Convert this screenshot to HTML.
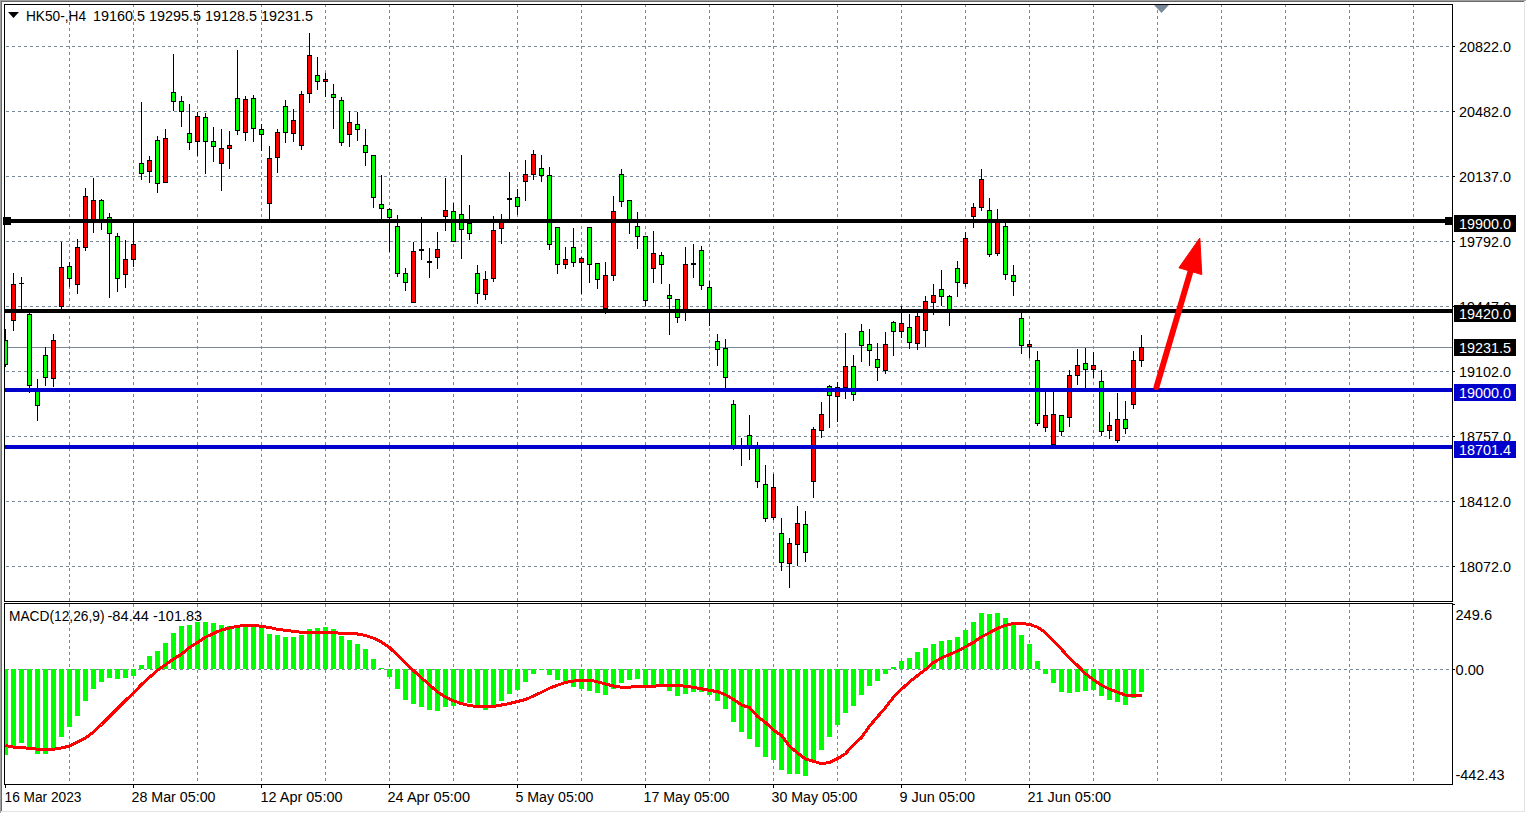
<!DOCTYPE html><html><head><meta charset="utf-8"><title>HK50 H4</title><style>html,body{margin:0;padding:0;background:#fff;overflow:hidden}svg{display:block}text{font-family:"Liberation Sans",sans-serif;font-size:14px}</style></head><body>
<svg width="1526" height="813" viewBox="0 0 1526 813">
<rect x="0" y="0" width="1526" height="813" fill="#ffffff"/>
<rect x="0" y="0" width="1526" height="1" fill="#a0a0a0"/>
<rect x="0" y="0" width="1" height="813" fill="#a0a0a0"/>
<rect x="1" y="1" width="1524" height="1" fill="#696969"/>
<rect x="1" y="1" width="1" height="811" fill="#696969"/>
<rect x="1524" y="1" width="1" height="811" fill="#e3e3e3"/>
<rect x="1" y="811" width="1524" height="1" fill="#e3e3e3"/>
<g shape-rendering="crispEdges">
<defs><clipPath id="cm"><rect x="5" y="5" width="1447" height="596"/></clipPath><clipPath id="cd"><rect x="5" y="604" width="1447" height="180"/></clipPath></defs>
<g clip-path="url(#cm)" stroke="#778899" stroke-width="1" stroke-dasharray="3 3" fill="none">
<line x1="69.5" y1="4" x2="69.5" y2="601"/>
<line x1="133.5" y1="4" x2="133.5" y2="601"/>
<line x1="197.5" y1="4" x2="197.5" y2="601"/>
<line x1="261.5" y1="4" x2="261.5" y2="601"/>
<line x1="325.5" y1="4" x2="325.5" y2="601"/>
<line x1="389.5" y1="4" x2="389.5" y2="601"/>
<line x1="453.5" y1="4" x2="453.5" y2="601"/>
<line x1="517.5" y1="4" x2="517.5" y2="601"/>
<line x1="581.5" y1="4" x2="581.5" y2="601"/>
<line x1="645.5" y1="4" x2="645.5" y2="601"/>
<line x1="709.5" y1="4" x2="709.5" y2="601"/>
<line x1="773.5" y1="4" x2="773.5" y2="601"/>
<line x1="837.5" y1="4" x2="837.5" y2="601"/>
<line x1="901.5" y1="4" x2="901.5" y2="601"/>
<line x1="965.5" y1="4" x2="965.5" y2="601"/>
<line x1="1029.5" y1="4" x2="1029.5" y2="601"/>
<line x1="1093.5" y1="4" x2="1093.5" y2="601"/>
<line x1="1157.5" y1="4" x2="1157.5" y2="601"/>
<line x1="1221.5" y1="4" x2="1221.5" y2="601"/>
<line x1="1285.5" y1="4" x2="1285.5" y2="601"/>
<line x1="1349.5" y1="4" x2="1349.5" y2="601"/>
<line x1="1413.5" y1="4" x2="1413.5" y2="601"/>
<line x1="0" y1="46.5" x2="1452" y2="46.5"/>
<line x1="0" y1="111.5" x2="1452" y2="111.5"/>
<line x1="0" y1="176.5" x2="1452" y2="176.5"/>
<line x1="0" y1="241.5" x2="1452" y2="241.5"/>
<line x1="0" y1="306.5" x2="1452" y2="306.5"/>
<line x1="0" y1="371.5" x2="1452" y2="371.5"/>
<line x1="0" y1="436.5" x2="1452" y2="436.5"/>
<line x1="0" y1="501.5" x2="1452" y2="501.5"/>
<line x1="0" y1="566.5" x2="1452" y2="566.5"/>
</g>
<g clip-path="url(#cd)" stroke="#778899" stroke-width="1" stroke-dasharray="3 3" fill="none">
<line x1="69.5" y1="604" x2="69.5" y2="781"/>
<line x1="133.5" y1="604" x2="133.5" y2="781"/>
<line x1="197.5" y1="604" x2="197.5" y2="781"/>
<line x1="261.5" y1="604" x2="261.5" y2="781"/>
<line x1="325.5" y1="604" x2="325.5" y2="781"/>
<line x1="389.5" y1="604" x2="389.5" y2="781"/>
<line x1="453.5" y1="604" x2="453.5" y2="781"/>
<line x1="517.5" y1="604" x2="517.5" y2="781"/>
<line x1="581.5" y1="604" x2="581.5" y2="781"/>
<line x1="645.5" y1="604" x2="645.5" y2="781"/>
<line x1="709.5" y1="604" x2="709.5" y2="781"/>
<line x1="773.5" y1="604" x2="773.5" y2="781"/>
<line x1="837.5" y1="604" x2="837.5" y2="781"/>
<line x1="901.5" y1="604" x2="901.5" y2="781"/>
<line x1="965.5" y1="604" x2="965.5" y2="781"/>
<line x1="1029.5" y1="604" x2="1029.5" y2="781"/>
<line x1="1093.5" y1="604" x2="1093.5" y2="781"/>
<line x1="1157.5" y1="604" x2="1157.5" y2="781"/>
<line x1="1221.5" y1="604" x2="1221.5" y2="781"/>
<line x1="1285.5" y1="604" x2="1285.5" y2="781"/>
<line x1="1349.5" y1="604" x2="1349.5" y2="781"/>
<line x1="1413.5" y1="604" x2="1413.5" y2="781"/>
<line x1="0" y1="669.5" x2="1452" y2="669.5"/>
</g>
<g fill="none" stroke="#000" stroke-width="1">
<rect x="4.5" y="4.5" width="1448" height="597"/>
<rect x="4.5" y="603.5" width="1448" height="181"/>
</g>
<rect x="1453" y="46" width="2" height="1" fill="#000"/>
<rect x="1453" y="111" width="2" height="1" fill="#000"/>
<rect x="1453" y="176" width="2" height="1" fill="#000"/>
<rect x="1453" y="241" width="2" height="1" fill="#000"/>
<rect x="1453" y="306" width="2" height="1" fill="#000"/>
<rect x="1453" y="371" width="2" height="1" fill="#000"/>
<rect x="1453" y="436" width="2" height="1" fill="#000"/>
<rect x="1453" y="501" width="2" height="1" fill="#000"/>
<rect x="1453" y="566" width="2" height="1" fill="#000"/>
<rect x="1453" y="604" width="2" height="1" fill="#000"/>
<rect x="1453" y="669" width="2" height="1" fill="#000"/>
<rect x="5" y="785" width="1" height="3" fill="#000"/>
<rect x="133" y="785" width="1" height="3" fill="#000"/>
<rect x="261" y="785" width="1" height="3" fill="#000"/>
<rect x="389" y="785" width="1" height="3" fill="#000"/>
<rect x="517" y="785" width="1" height="3" fill="#000"/>
<rect x="645" y="785" width="1" height="3" fill="#000"/>
<rect x="773" y="785" width="1" height="3" fill="#000"/>
<rect x="901" y="785" width="1" height="3" fill="#000"/>
<rect x="1029" y="785" width="1" height="3" fill="#000"/>
<rect x="5" y="347" width="1447" height="1" fill="#778899"/>
<g clip-path="url(#cm)">
<rect x="5" y="329" width="1" height="38" fill="#000"/>
<rect x="3" y="340" width="5" height="25" fill="#000"/>
<rect x="4" y="341" width="3" height="23" fill="#00ff00"/>
<rect x="13" y="273" width="1" height="58" fill="#000"/>
<rect x="11" y="284" width="5" height="37" fill="#000"/>
<rect x="12" y="285" width="3" height="35" fill="#ff0000"/>
<rect x="21" y="277" width="1" height="35" fill="#000"/>
<rect x="19" y="283" width="5" height="1" fill="#000"/>
<rect x="29" y="312" width="1" height="81" fill="#000"/>
<rect x="27" y="314" width="5" height="72" fill="#000"/>
<rect x="28" y="315" width="3" height="70" fill="#00ff00"/>
<rect x="37" y="379" width="1" height="42" fill="#000"/>
<rect x="35" y="391" width="5" height="15" fill="#000"/>
<rect x="36" y="392" width="3" height="13" fill="#00ff00"/>
<rect x="45" y="347" width="1" height="39" fill="#000"/>
<rect x="43" y="355" width="5" height="23" fill="#000"/>
<rect x="44" y="356" width="3" height="21" fill="#00ff00"/>
<rect x="53" y="334" width="1" height="53" fill="#000"/>
<rect x="51" y="340" width="5" height="39" fill="#000"/>
<rect x="52" y="341" width="3" height="37" fill="#ff0000"/>
<rect x="61" y="242" width="1" height="67" fill="#000"/>
<rect x="59" y="267" width="5" height="40" fill="#000"/>
<rect x="60" y="268" width="3" height="38" fill="#ff0000"/>
<rect x="69" y="262" width="1" height="25" fill="#000"/>
<rect x="67" y="266" width="5" height="13" fill="#000"/>
<rect x="68" y="267" width="3" height="11" fill="#00ff00"/>
<rect x="77" y="239" width="1" height="55" fill="#000"/>
<rect x="75" y="247" width="5" height="38" fill="#000"/>
<rect x="76" y="248" width="3" height="36" fill="#ff0000"/>
<rect x="85" y="188" width="1" height="63" fill="#000"/>
<rect x="83" y="196" width="5" height="52" fill="#000"/>
<rect x="84" y="197" width="3" height="50" fill="#ff0000"/>
<rect x="93" y="178" width="1" height="55" fill="#000"/>
<rect x="91" y="200" width="5" height="23" fill="#000"/>
<rect x="92" y="201" width="3" height="21" fill="#ff0000"/>
<rect x="101" y="199" width="1" height="31" fill="#000"/>
<rect x="99" y="200" width="5" height="20" fill="#000"/>
<rect x="100" y="201" width="3" height="18" fill="#00ff00"/>
<rect x="109" y="213" width="1" height="85" fill="#000"/>
<rect x="107" y="217" width="5" height="17" fill="#000"/>
<rect x="108" y="218" width="3" height="15" fill="#00ff00"/>
<rect x="117" y="233" width="1" height="59" fill="#000"/>
<rect x="115" y="236" width="5" height="43" fill="#000"/>
<rect x="116" y="237" width="3" height="41" fill="#00ff00"/>
<rect x="125" y="240" width="1" height="48" fill="#000"/>
<rect x="123" y="259" width="5" height="16" fill="#000"/>
<rect x="124" y="260" width="3" height="14" fill="#ff0000"/>
<rect x="133" y="223" width="1" height="44" fill="#000"/>
<rect x="131" y="244" width="5" height="16" fill="#000"/>
<rect x="132" y="245" width="3" height="14" fill="#ff0000"/>
<rect x="141" y="102" width="1" height="78" fill="#000"/>
<rect x="139" y="163" width="5" height="11" fill="#000"/>
<rect x="140" y="164" width="3" height="9" fill="#00ff00"/>
<rect x="149" y="156" width="1" height="27" fill="#000"/>
<rect x="147" y="160" width="5" height="12" fill="#000"/>
<rect x="148" y="161" width="3" height="10" fill="#ff0000"/>
<rect x="157" y="136" width="1" height="57" fill="#000"/>
<rect x="155" y="140" width="5" height="44" fill="#000"/>
<rect x="156" y="141" width="3" height="42" fill="#00ff00"/>
<rect x="165" y="129" width="1" height="54" fill="#000"/>
<rect x="163" y="138" width="5" height="45" fill="#000"/>
<rect x="164" y="139" width="3" height="43" fill="#ff0000"/>
<rect x="173" y="54" width="1" height="57" fill="#000"/>
<rect x="171" y="92" width="5" height="10" fill="#000"/>
<rect x="172" y="93" width="3" height="8" fill="#00ff00"/>
<rect x="181" y="96" width="1" height="31" fill="#000"/>
<rect x="179" y="101" width="5" height="11" fill="#000"/>
<rect x="180" y="102" width="3" height="9" fill="#00ff00"/>
<rect x="189" y="104" width="1" height="46" fill="#000"/>
<rect x="187" y="133" width="5" height="10" fill="#000"/>
<rect x="188" y="134" width="3" height="8" fill="#00ff00"/>
<rect x="197" y="112" width="1" height="44" fill="#000"/>
<rect x="195" y="116" width="5" height="26" fill="#000"/>
<rect x="196" y="117" width="3" height="24" fill="#ff0000"/>
<rect x="205" y="113" width="1" height="61" fill="#000"/>
<rect x="203" y="117" width="5" height="25" fill="#000"/>
<rect x="204" y="118" width="3" height="23" fill="#00ff00"/>
<rect x="213" y="127" width="1" height="35" fill="#000"/>
<rect x="211" y="141" width="5" height="6" fill="#000"/>
<rect x="212" y="142" width="3" height="4" fill="#00ff00"/>
<rect x="221" y="129" width="1" height="62" fill="#000"/>
<rect x="219" y="148" width="5" height="16" fill="#000"/>
<rect x="220" y="149" width="3" height="14" fill="#ff0000"/>
<rect x="229" y="131" width="1" height="38" fill="#000"/>
<rect x="227" y="145" width="5" height="4" fill="#000"/>
<rect x="228" y="146" width="3" height="2" fill="#ff0000"/>
<rect x="237" y="50" width="1" height="85" fill="#000"/>
<rect x="235" y="98" width="5" height="33" fill="#000"/>
<rect x="236" y="99" width="3" height="31" fill="#00ff00"/>
<rect x="245" y="96" width="1" height="45" fill="#000"/>
<rect x="243" y="99" width="5" height="34" fill="#000"/>
<rect x="244" y="100" width="3" height="32" fill="#ff0000"/>
<rect x="253" y="95" width="1" height="47" fill="#000"/>
<rect x="251" y="98" width="5" height="31" fill="#000"/>
<rect x="252" y="99" width="3" height="29" fill="#00ff00"/>
<rect x="261" y="124" width="1" height="27" fill="#000"/>
<rect x="259" y="129" width="5" height="6" fill="#000"/>
<rect x="260" y="130" width="3" height="4" fill="#00ff00"/>
<rect x="269" y="146" width="1" height="74" fill="#000"/>
<rect x="267" y="158" width="5" height="46" fill="#000"/>
<rect x="268" y="159" width="3" height="44" fill="#ff0000"/>
<rect x="277" y="129" width="1" height="44" fill="#000"/>
<rect x="275" y="132" width="5" height="26" fill="#000"/>
<rect x="276" y="133" width="3" height="24" fill="#ff0000"/>
<rect x="285" y="100" width="1" height="43" fill="#000"/>
<rect x="283" y="106" width="5" height="27" fill="#000"/>
<rect x="284" y="107" width="3" height="25" fill="#00ff00"/>
<rect x="293" y="109" width="1" height="33" fill="#000"/>
<rect x="291" y="120" width="5" height="14" fill="#000"/>
<rect x="292" y="121" width="3" height="12" fill="#ff0000"/>
<rect x="301" y="91" width="1" height="59" fill="#000"/>
<rect x="299" y="94" width="5" height="52" fill="#000"/>
<rect x="300" y="95" width="3" height="50" fill="#ff0000"/>
<rect x="309" y="33" width="1" height="70" fill="#000"/>
<rect x="307" y="55" width="5" height="39" fill="#000"/>
<rect x="308" y="56" width="3" height="37" fill="#ff0000"/>
<rect x="317" y="57" width="1" height="33" fill="#000"/>
<rect x="315" y="75" width="5" height="7" fill="#000"/>
<rect x="316" y="76" width="3" height="5" fill="#00ff00"/>
<rect x="325" y="73" width="1" height="24" fill="#000"/>
<rect x="323" y="79" width="5" height="3" fill="#000"/>
<rect x="324" y="80" width="3" height="1" fill="#ff0000"/>
<rect x="333" y="84" width="1" height="45" fill="#000"/>
<rect x="331" y="94" width="5" height="4" fill="#000"/>
<rect x="332" y="95" width="3" height="2" fill="#00ff00"/>
<rect x="341" y="97" width="1" height="49" fill="#000"/>
<rect x="339" y="100" width="5" height="43" fill="#000"/>
<rect x="340" y="101" width="3" height="41" fill="#00ff00"/>
<rect x="349" y="111" width="1" height="36" fill="#000"/>
<rect x="347" y="122" width="5" height="13" fill="#000"/>
<rect x="348" y="123" width="3" height="11" fill="#ff0000"/>
<rect x="357" y="112" width="1" height="29" fill="#000"/>
<rect x="355" y="124" width="5" height="6" fill="#000"/>
<rect x="356" y="125" width="3" height="4" fill="#00ff00"/>
<rect x="365" y="129" width="1" height="37" fill="#000"/>
<rect x="363" y="145" width="5" height="8" fill="#000"/>
<rect x="364" y="146" width="3" height="6" fill="#00ff00"/>
<rect x="373" y="155" width="1" height="53" fill="#000"/>
<rect x="371" y="155" width="5" height="43" fill="#000"/>
<rect x="372" y="156" width="3" height="41" fill="#00ff00"/>
<rect x="381" y="175" width="1" height="45" fill="#000"/>
<rect x="379" y="204" width="5" height="5" fill="#000"/>
<rect x="380" y="205" width="3" height="3" fill="#00ff00"/>
<rect x="389" y="208" width="1" height="44" fill="#000"/>
<rect x="387" y="209" width="5" height="9" fill="#000"/>
<rect x="388" y="210" width="3" height="7" fill="#00ff00"/>
<rect x="397" y="215" width="1" height="62" fill="#000"/>
<rect x="395" y="226" width="5" height="48" fill="#000"/>
<rect x="396" y="227" width="3" height="46" fill="#00ff00"/>
<rect x="405" y="268" width="1" height="23" fill="#000"/>
<rect x="403" y="273" width="5" height="10" fill="#000"/>
<rect x="404" y="274" width="3" height="8" fill="#00ff00"/>
<rect x="413" y="242" width="1" height="61" fill="#000"/>
<rect x="411" y="251" width="5" height="52" fill="#000"/>
<rect x="412" y="252" width="3" height="50" fill="#ff0000"/>
<rect x="421" y="217" width="1" height="43" fill="#000"/>
<rect x="419" y="249" width="5" height="2" fill="#000"/>
<rect x="429" y="248" width="1" height="30" fill="#000"/>
<rect x="427" y="261" width="5" height="2" fill="#000"/>
<rect x="437" y="232" width="1" height="37" fill="#000"/>
<rect x="435" y="249" width="5" height="9" fill="#000"/>
<rect x="436" y="250" width="3" height="7" fill="#ff0000"/>
<rect x="445" y="178" width="1" height="53" fill="#000"/>
<rect x="443" y="210" width="5" height="7" fill="#000"/>
<rect x="444" y="211" width="3" height="5" fill="#ff0000"/>
<rect x="453" y="203" width="1" height="38" fill="#000"/>
<rect x="451" y="211" width="5" height="31" fill="#000"/>
<rect x="452" y="212" width="3" height="29" fill="#00ff00"/>
<rect x="461" y="155" width="1" height="104" fill="#000"/>
<rect x="459" y="214" width="5" height="16" fill="#000"/>
<rect x="460" y="215" width="3" height="14" fill="#00ff00"/>
<rect x="469" y="205" width="1" height="35" fill="#000"/>
<rect x="467" y="223" width="5" height="11" fill="#000"/>
<rect x="468" y="224" width="3" height="9" fill="#00ff00"/>
<rect x="477" y="265" width="1" height="39" fill="#000"/>
<rect x="475" y="273" width="5" height="21" fill="#000"/>
<rect x="476" y="274" width="3" height="19" fill="#00ff00"/>
<rect x="485" y="271" width="1" height="29" fill="#000"/>
<rect x="483" y="279" width="5" height="16" fill="#000"/>
<rect x="484" y="280" width="3" height="14" fill="#ff0000"/>
<rect x="493" y="216" width="1" height="66" fill="#000"/>
<rect x="491" y="230" width="5" height="49" fill="#000"/>
<rect x="492" y="231" width="3" height="47" fill="#ff0000"/>
<rect x="501" y="214" width="1" height="30" fill="#000"/>
<rect x="499" y="222" width="5" height="7" fill="#000"/>
<rect x="500" y="223" width="3" height="5" fill="#ff0000"/>
<rect x="509" y="172" width="1" height="48" fill="#000"/>
<rect x="507" y="198" width="5" height="2" fill="#000"/>
<rect x="517" y="189" width="1" height="26" fill="#000"/>
<rect x="515" y="197" width="5" height="10" fill="#000"/>
<rect x="516" y="198" width="3" height="8" fill="#00ff00"/>
<rect x="525" y="160" width="1" height="41" fill="#000"/>
<rect x="523" y="174" width="5" height="8" fill="#000"/>
<rect x="524" y="175" width="3" height="6" fill="#ff0000"/>
<rect x="533" y="150" width="1" height="30" fill="#000"/>
<rect x="531" y="154" width="5" height="21" fill="#000"/>
<rect x="532" y="155" width="3" height="19" fill="#ff0000"/>
<rect x="541" y="155" width="1" height="27" fill="#000"/>
<rect x="539" y="168" width="5" height="8" fill="#000"/>
<rect x="540" y="169" width="3" height="6" fill="#00ff00"/>
<rect x="549" y="167" width="1" height="83" fill="#000"/>
<rect x="547" y="175" width="5" height="70" fill="#000"/>
<rect x="548" y="176" width="3" height="68" fill="#00ff00"/>
<rect x="557" y="227" width="1" height="47" fill="#000"/>
<rect x="555" y="227" width="5" height="38" fill="#000"/>
<rect x="556" y="228" width="3" height="36" fill="#00ff00"/>
<rect x="565" y="247" width="1" height="22" fill="#000"/>
<rect x="563" y="259" width="5" height="6" fill="#000"/>
<rect x="564" y="260" width="3" height="4" fill="#ff0000"/>
<rect x="573" y="228" width="1" height="39" fill="#000"/>
<rect x="571" y="247" width="5" height="16" fill="#000"/>
<rect x="572" y="248" width="3" height="14" fill="#00ff00"/>
<rect x="581" y="257" width="1" height="37" fill="#000"/>
<rect x="579" y="258" width="5" height="5" fill="#000"/>
<rect x="580" y="259" width="3" height="3" fill="#ff0000"/>
<rect x="589" y="227" width="1" height="56" fill="#000"/>
<rect x="587" y="227" width="5" height="38" fill="#000"/>
<rect x="588" y="228" width="3" height="36" fill="#00ff00"/>
<rect x="597" y="263" width="1" height="26" fill="#000"/>
<rect x="595" y="263" width="5" height="17" fill="#000"/>
<rect x="596" y="264" width="3" height="15" fill="#00ff00"/>
<rect x="605" y="262" width="1" height="52" fill="#000"/>
<rect x="603" y="275" width="5" height="34" fill="#000"/>
<rect x="604" y="276" width="3" height="32" fill="#ff0000"/>
<rect x="613" y="196" width="1" height="85" fill="#000"/>
<rect x="611" y="211" width="5" height="65" fill="#000"/>
<rect x="612" y="212" width="3" height="63" fill="#ff0000"/>
<rect x="621" y="169" width="1" height="38" fill="#000"/>
<rect x="619" y="174" width="5" height="28" fill="#000"/>
<rect x="620" y="175" width="3" height="26" fill="#00ff00"/>
<rect x="629" y="200" width="1" height="34" fill="#000"/>
<rect x="627" y="200" width="5" height="21" fill="#000"/>
<rect x="628" y="201" width="3" height="19" fill="#00ff00"/>
<rect x="637" y="212" width="1" height="37" fill="#000"/>
<rect x="635" y="226" width="5" height="11" fill="#000"/>
<rect x="636" y="227" width="3" height="9" fill="#00ff00"/>
<rect x="645" y="236" width="1" height="70" fill="#000"/>
<rect x="643" y="236" width="5" height="65" fill="#000"/>
<rect x="644" y="237" width="3" height="63" fill="#00ff00"/>
<rect x="653" y="231" width="1" height="52" fill="#000"/>
<rect x="651" y="253" width="5" height="16" fill="#000"/>
<rect x="652" y="254" width="3" height="14" fill="#ff0000"/>
<rect x="661" y="252" width="1" height="32" fill="#000"/>
<rect x="659" y="255" width="5" height="10" fill="#000"/>
<rect x="660" y="256" width="3" height="8" fill="#00ff00"/>
<rect x="669" y="284" width="1" height="51" fill="#000"/>
<rect x="667" y="295" width="5" height="4" fill="#000"/>
<rect x="668" y="296" width="3" height="2" fill="#00ff00"/>
<rect x="677" y="299" width="1" height="24" fill="#000"/>
<rect x="675" y="299" width="5" height="19" fill="#000"/>
<rect x="676" y="300" width="3" height="17" fill="#00ff00"/>
<rect x="685" y="247" width="1" height="74" fill="#000"/>
<rect x="683" y="264" width="5" height="47" fill="#000"/>
<rect x="684" y="265" width="3" height="45" fill="#ff0000"/>
<rect x="693" y="244" width="1" height="34" fill="#000"/>
<rect x="691" y="263" width="5" height="2" fill="#000"/>
<rect x="701" y="246" width="1" height="44" fill="#000"/>
<rect x="699" y="250" width="5" height="36" fill="#000"/>
<rect x="700" y="251" width="3" height="34" fill="#00ff00"/>
<rect x="709" y="281" width="1" height="45" fill="#000"/>
<rect x="707" y="287" width="5" height="23" fill="#000"/>
<rect x="708" y="288" width="3" height="21" fill="#00ff00"/>
<rect x="717" y="334" width="1" height="32" fill="#000"/>
<rect x="715" y="341" width="5" height="9" fill="#000"/>
<rect x="716" y="342" width="3" height="7" fill="#00ff00"/>
<rect x="725" y="339" width="1" height="49" fill="#000"/>
<rect x="723" y="348" width="5" height="30" fill="#000"/>
<rect x="724" y="349" width="3" height="28" fill="#00ff00"/>
<rect x="733" y="400" width="1" height="50" fill="#000"/>
<rect x="731" y="404" width="5" height="43" fill="#000"/>
<rect x="732" y="405" width="3" height="41" fill="#00ff00"/>
<rect x="741" y="438" width="1" height="28" fill="#000"/>
<rect x="739" y="447" width="5" height="1" fill="#000"/>
<rect x="749" y="415" width="1" height="45" fill="#000"/>
<rect x="747" y="435" width="5" height="13" fill="#000"/>
<rect x="748" y="436" width="3" height="11" fill="#00ff00"/>
<rect x="757" y="442" width="1" height="46" fill="#000"/>
<rect x="755" y="447" width="5" height="35" fill="#000"/>
<rect x="756" y="448" width="3" height="33" fill="#00ff00"/>
<rect x="765" y="465" width="1" height="57" fill="#000"/>
<rect x="763" y="484" width="5" height="35" fill="#000"/>
<rect x="764" y="485" width="3" height="33" fill="#00ff00"/>
<rect x="773" y="474" width="1" height="46" fill="#000"/>
<rect x="771" y="487" width="5" height="31" fill="#000"/>
<rect x="772" y="488" width="3" height="29" fill="#ff0000"/>
<rect x="781" y="518" width="1" height="53" fill="#000"/>
<rect x="779" y="533" width="5" height="30" fill="#000"/>
<rect x="780" y="534" width="3" height="28" fill="#00ff00"/>
<rect x="789" y="538" width="1" height="50" fill="#000"/>
<rect x="787" y="543" width="5" height="21" fill="#000"/>
<rect x="788" y="544" width="3" height="19" fill="#ff0000"/>
<rect x="797" y="506" width="1" height="60" fill="#000"/>
<rect x="795" y="523" width="5" height="22" fill="#000"/>
<rect x="796" y="524" width="3" height="20" fill="#ff0000"/>
<rect x="805" y="511" width="1" height="51" fill="#000"/>
<rect x="803" y="524" width="5" height="29" fill="#000"/>
<rect x="804" y="525" width="3" height="27" fill="#00ff00"/>
<rect x="813" y="427" width="1" height="71" fill="#000"/>
<rect x="811" y="429" width="5" height="53" fill="#000"/>
<rect x="812" y="430" width="3" height="51" fill="#ff0000"/>
<rect x="821" y="402" width="1" height="36" fill="#000"/>
<rect x="819" y="414" width="5" height="17" fill="#000"/>
<rect x="820" y="415" width="3" height="15" fill="#ff0000"/>
<rect x="829" y="385" width="1" height="43" fill="#000"/>
<rect x="827" y="386" width="5" height="10" fill="#000"/>
<rect x="828" y="387" width="3" height="8" fill="#00ff00"/>
<rect x="837" y="382" width="1" height="40" fill="#000"/>
<rect x="835" y="387" width="5" height="10" fill="#000"/>
<rect x="836" y="388" width="3" height="8" fill="#ff0000"/>
<rect x="845" y="333" width="1" height="66" fill="#000"/>
<rect x="843" y="366" width="5" height="22" fill="#000"/>
<rect x="844" y="367" width="3" height="20" fill="#ff0000"/>
<rect x="853" y="355" width="1" height="46" fill="#000"/>
<rect x="851" y="366" width="5" height="29" fill="#000"/>
<rect x="852" y="367" width="3" height="27" fill="#00ff00"/>
<rect x="861" y="324" width="1" height="38" fill="#000"/>
<rect x="859" y="331" width="5" height="15" fill="#000"/>
<rect x="860" y="332" width="3" height="13" fill="#00ff00"/>
<rect x="869" y="329" width="1" height="37" fill="#000"/>
<rect x="867" y="344" width="5" height="7" fill="#000"/>
<rect x="868" y="345" width="3" height="5" fill="#00ff00"/>
<rect x="877" y="343" width="1" height="38" fill="#000"/>
<rect x="875" y="359" width="5" height="9" fill="#000"/>
<rect x="876" y="360" width="3" height="7" fill="#00ff00"/>
<rect x="885" y="332" width="1" height="42" fill="#000"/>
<rect x="883" y="344" width="5" height="27" fill="#000"/>
<rect x="884" y="345" width="3" height="25" fill="#ff0000"/>
<rect x="893" y="321" width="1" height="35" fill="#000"/>
<rect x="891" y="322" width="5" height="10" fill="#000"/>
<rect x="892" y="323" width="3" height="8" fill="#00ff00"/>
<rect x="901" y="306" width="1" height="32" fill="#000"/>
<rect x="899" y="323" width="5" height="9" fill="#000"/>
<rect x="900" y="324" width="3" height="7" fill="#ff0000"/>
<rect x="909" y="314" width="1" height="35" fill="#000"/>
<rect x="907" y="327" width="5" height="16" fill="#000"/>
<rect x="908" y="328" width="3" height="14" fill="#00ff00"/>
<rect x="917" y="313" width="1" height="37" fill="#000"/>
<rect x="915" y="316" width="5" height="28" fill="#000"/>
<rect x="916" y="317" width="3" height="26" fill="#ff0000"/>
<rect x="925" y="296" width="1" height="51" fill="#000"/>
<rect x="923" y="301" width="5" height="30" fill="#000"/>
<rect x="924" y="302" width="3" height="28" fill="#ff0000"/>
<rect x="933" y="284" width="1" height="31" fill="#000"/>
<rect x="931" y="295" width="5" height="8" fill="#000"/>
<rect x="932" y="296" width="3" height="6" fill="#ff0000"/>
<rect x="941" y="270" width="1" height="36" fill="#000"/>
<rect x="939" y="289" width="5" height="8" fill="#000"/>
<rect x="940" y="290" width="3" height="6" fill="#00ff00"/>
<rect x="949" y="295" width="1" height="31" fill="#000"/>
<rect x="947" y="296" width="5" height="14" fill="#000"/>
<rect x="948" y="297" width="3" height="12" fill="#00ff00"/>
<rect x="957" y="261" width="1" height="36" fill="#000"/>
<rect x="955" y="268" width="5" height="15" fill="#000"/>
<rect x="956" y="269" width="3" height="13" fill="#00ff00"/>
<rect x="965" y="232" width="1" height="55" fill="#000"/>
<rect x="963" y="238" width="5" height="46" fill="#000"/>
<rect x="964" y="239" width="3" height="44" fill="#ff0000"/>
<rect x="973" y="203" width="1" height="25" fill="#000"/>
<rect x="971" y="207" width="5" height="10" fill="#000"/>
<rect x="972" y="208" width="3" height="8" fill="#ff0000"/>
<rect x="981" y="169" width="1" height="42" fill="#000"/>
<rect x="979" y="179" width="5" height="29" fill="#000"/>
<rect x="980" y="180" width="3" height="27" fill="#ff0000"/>
<rect x="989" y="198" width="1" height="59" fill="#000"/>
<rect x="987" y="210" width="5" height="45" fill="#000"/>
<rect x="988" y="211" width="3" height="43" fill="#00ff00"/>
<rect x="997" y="209" width="1" height="47" fill="#000"/>
<rect x="995" y="220" width="5" height="34" fill="#000"/>
<rect x="996" y="221" width="3" height="32" fill="#ff0000"/>
<rect x="1005" y="221" width="1" height="59" fill="#000"/>
<rect x="1003" y="226" width="5" height="49" fill="#000"/>
<rect x="1004" y="227" width="3" height="47" fill="#00ff00"/>
<rect x="1013" y="265" width="1" height="31" fill="#000"/>
<rect x="1011" y="275" width="5" height="7" fill="#000"/>
<rect x="1012" y="276" width="3" height="5" fill="#00ff00"/>
<rect x="1021" y="313" width="1" height="41" fill="#000"/>
<rect x="1019" y="318" width="5" height="28" fill="#000"/>
<rect x="1020" y="319" width="3" height="26" fill="#00ff00"/>
<rect x="1029" y="340" width="1" height="18" fill="#000"/>
<rect x="1027" y="344" width="5" height="3" fill="#000"/>
<rect x="1028" y="345" width="3" height="1" fill="#ff0000"/>
<rect x="1037" y="351" width="1" height="75" fill="#000"/>
<rect x="1035" y="360" width="5" height="64" fill="#000"/>
<rect x="1036" y="361" width="3" height="62" fill="#00ff00"/>
<rect x="1045" y="392" width="1" height="40" fill="#000"/>
<rect x="1043" y="415" width="5" height="13" fill="#000"/>
<rect x="1044" y="416" width="3" height="11" fill="#ff0000"/>
<rect x="1053" y="392" width="1" height="52" fill="#000"/>
<rect x="1051" y="414" width="5" height="31" fill="#000"/>
<rect x="1052" y="415" width="3" height="29" fill="#ff0000"/>
<rect x="1061" y="415" width="1" height="21" fill="#000"/>
<rect x="1059" y="415" width="5" height="17" fill="#000"/>
<rect x="1060" y="416" width="3" height="15" fill="#00ff00"/>
<rect x="1069" y="370" width="1" height="57" fill="#000"/>
<rect x="1067" y="375" width="5" height="43" fill="#000"/>
<rect x="1068" y="376" width="3" height="41" fill="#ff0000"/>
<rect x="1077" y="349" width="1" height="36" fill="#000"/>
<rect x="1075" y="365" width="5" height="11" fill="#000"/>
<rect x="1076" y="366" width="3" height="9" fill="#ff0000"/>
<rect x="1085" y="348" width="1" height="40" fill="#000"/>
<rect x="1083" y="363" width="5" height="7" fill="#000"/>
<rect x="1084" y="364" width="3" height="5" fill="#00ff00"/>
<rect x="1093" y="352" width="1" height="26" fill="#000"/>
<rect x="1091" y="365" width="5" height="5" fill="#000"/>
<rect x="1092" y="366" width="3" height="3" fill="#ff0000"/>
<rect x="1101" y="370" width="1" height="66" fill="#000"/>
<rect x="1099" y="381" width="5" height="51" fill="#000"/>
<rect x="1100" y="382" width="3" height="49" fill="#00ff00"/>
<rect x="1109" y="412" width="1" height="27" fill="#000"/>
<rect x="1107" y="425" width="5" height="6" fill="#000"/>
<rect x="1108" y="426" width="3" height="4" fill="#ff0000"/>
<rect x="1117" y="393" width="1" height="50" fill="#000"/>
<rect x="1115" y="419" width="5" height="22" fill="#000"/>
<rect x="1116" y="420" width="3" height="20" fill="#ff0000"/>
<rect x="1125" y="401" width="1" height="33" fill="#000"/>
<rect x="1123" y="419" width="5" height="10" fill="#000"/>
<rect x="1124" y="420" width="3" height="8" fill="#00ff00"/>
<rect x="1133" y="351" width="1" height="58" fill="#000"/>
<rect x="1131" y="360" width="5" height="45" fill="#000"/>
<rect x="1132" y="361" width="3" height="43" fill="#ff0000"/>
<rect x="1141" y="335" width="1" height="32" fill="#000"/>
<rect x="1139" y="347" width="5" height="14" fill="#000"/>
<rect x="1140" y="348" width="3" height="12" fill="#ff0000"/>
</g>
<rect x="5" y="219" width="1447" height="4" fill="#000"/>
<rect x="5" y="309" width="1447" height="4" fill="#000"/>
<rect x="5" y="388" width="1447" height="4" fill="#0000cd"/>
<rect x="5" y="445" width="1447" height="4" fill="#0000cd"/>
<rect x="3" y="217" width="8" height="8" fill="#000"/>
<rect x="1445" y="217" width="8" height="8" fill="#000"/>
</g>
<g shape-rendering="crispEdges" fill="#00ff00" clip-path="url(#cd)">
<rect x="3" y="669" width="5" height="86" fill="#00ff00"/>
<rect x="11" y="669" width="5" height="78" fill="#00ff00"/>
<rect x="19" y="669" width="5" height="74" fill="#00ff00"/>
<rect x="27" y="669" width="5" height="80" fill="#00ff00"/>
<rect x="35" y="669" width="5" height="85" fill="#00ff00"/>
<rect x="43" y="669" width="5" height="85" fill="#00ff00"/>
<rect x="51" y="669" width="5" height="81" fill="#00ff00"/>
<rect x="59" y="669" width="5" height="68" fill="#00ff00"/>
<rect x="67" y="669" width="5" height="58" fill="#00ff00"/>
<rect x="75" y="669" width="5" height="47" fill="#00ff00"/>
<rect x="83" y="669" width="5" height="32" fill="#00ff00"/>
<rect x="91" y="669" width="5" height="20" fill="#00ff00"/>
<rect x="99" y="669" width="5" height="13" fill="#00ff00"/>
<rect x="107" y="669" width="5" height="9" fill="#00ff00"/>
<rect x="115" y="669" width="5" height="10" fill="#00ff00"/>
<rect x="123" y="669" width="5" height="9" fill="#00ff00"/>
<rect x="131" y="669" width="5" height="7" fill="#00ff00"/>
<rect x="139" y="665" width="5" height="4" fill="#00ff00"/>
<rect x="147" y="656" width="5" height="13" fill="#00ff00"/>
<rect x="155" y="651" width="5" height="18" fill="#00ff00"/>
<rect x="163" y="643" width="5" height="26" fill="#00ff00"/>
<rect x="171" y="633" width="5" height="36" fill="#00ff00"/>
<rect x="179" y="626" width="5" height="43" fill="#00ff00"/>
<rect x="187" y="625" width="5" height="44" fill="#00ff00"/>
<rect x="195" y="622" width="5" height="47" fill="#00ff00"/>
<rect x="203" y="622" width="5" height="47" fill="#00ff00"/>
<rect x="211" y="623" width="5" height="46" fill="#00ff00"/>
<rect x="219" y="625" width="5" height="44" fill="#00ff00"/>
<rect x="227" y="626" width="5" height="43" fill="#00ff00"/>
<rect x="235" y="625" width="5" height="44" fill="#00ff00"/>
<rect x="243" y="624" width="5" height="45" fill="#00ff00"/>
<rect x="251" y="624" width="5" height="45" fill="#00ff00"/>
<rect x="259" y="628" width="5" height="41" fill="#00ff00"/>
<rect x="267" y="634" width="5" height="35" fill="#00ff00"/>
<rect x="275" y="635" width="5" height="34" fill="#00ff00"/>
<rect x="283" y="637" width="5" height="32" fill="#00ff00"/>
<rect x="291" y="637" width="5" height="32" fill="#00ff00"/>
<rect x="299" y="635" width="5" height="34" fill="#00ff00"/>
<rect x="307" y="629" width="5" height="40" fill="#00ff00"/>
<rect x="315" y="628" width="5" height="41" fill="#00ff00"/>
<rect x="323" y="627" width="5" height="42" fill="#00ff00"/>
<rect x="331" y="629" width="5" height="40" fill="#00ff00"/>
<rect x="339" y="636" width="5" height="33" fill="#00ff00"/>
<rect x="347" y="640" width="5" height="29" fill="#00ff00"/>
<rect x="355" y="644" width="5" height="25" fill="#00ff00"/>
<rect x="363" y="649" width="5" height="20" fill="#00ff00"/>
<rect x="371" y="659" width="5" height="10" fill="#00ff00"/>
<rect x="379" y="668" width="5" height="1" fill="#00ff00"/>
<rect x="387" y="669" width="5" height="8" fill="#00ff00"/>
<rect x="395" y="669" width="5" height="20" fill="#00ff00"/>
<rect x="403" y="669" width="5" height="31" fill="#00ff00"/>
<rect x="411" y="669" width="5" height="35" fill="#00ff00"/>
<rect x="419" y="669" width="5" height="38" fill="#00ff00"/>
<rect x="427" y="669" width="5" height="41" fill="#00ff00"/>
<rect x="435" y="669" width="5" height="42" fill="#00ff00"/>
<rect x="443" y="669" width="5" height="38" fill="#00ff00"/>
<rect x="451" y="669" width="5" height="37" fill="#00ff00"/>
<rect x="459" y="669" width="5" height="35" fill="#00ff00"/>
<rect x="467" y="669" width="5" height="34" fill="#00ff00"/>
<rect x="475" y="669" width="5" height="37" fill="#00ff00"/>
<rect x="483" y="669" width="5" height="41" fill="#00ff00"/>
<rect x="491" y="669" width="5" height="38" fill="#00ff00"/>
<rect x="499" y="669" width="5" height="32" fill="#00ff00"/>
<rect x="507" y="669" width="5" height="25" fill="#00ff00"/>
<rect x="515" y="669" width="5" height="21" fill="#00ff00"/>
<rect x="523" y="669" width="5" height="13" fill="#00ff00"/>
<rect x="531" y="669" width="5" height="5" fill="#00ff00"/>
<rect x="539" y="669" width="5" height="1" fill="#00ff00"/>
<rect x="547" y="669" width="5" height="6" fill="#00ff00"/>
<rect x="555" y="669" width="5" height="11" fill="#00ff00"/>
<rect x="563" y="669" width="5" height="14" fill="#00ff00"/>
<rect x="571" y="669" width="5" height="18" fill="#00ff00"/>
<rect x="579" y="669" width="5" height="20" fill="#00ff00"/>
<rect x="587" y="669" width="5" height="22" fill="#00ff00"/>
<rect x="595" y="669" width="5" height="24" fill="#00ff00"/>
<rect x="603" y="669" width="5" height="26" fill="#00ff00"/>
<rect x="611" y="669" width="5" height="20" fill="#00ff00"/>
<rect x="619" y="669" width="5" height="14" fill="#00ff00"/>
<rect x="627" y="669" width="5" height="11" fill="#00ff00"/>
<rect x="635" y="669" width="5" height="10" fill="#00ff00"/>
<rect x="643" y="669" width="5" height="17" fill="#00ff00"/>
<rect x="651" y="669" width="5" height="17" fill="#00ff00"/>
<rect x="659" y="669" width="5" height="17" fill="#00ff00"/>
<rect x="667" y="669" width="5" height="22" fill="#00ff00"/>
<rect x="675" y="669" width="5" height="27" fill="#00ff00"/>
<rect x="683" y="669" width="5" height="25" fill="#00ff00"/>
<rect x="691" y="669" width="5" height="23" fill="#00ff00"/>
<rect x="699" y="669" width="5" height="23" fill="#00ff00"/>
<rect x="707" y="669" width="5" height="26" fill="#00ff00"/>
<rect x="715" y="669" width="5" height="32" fill="#00ff00"/>
<rect x="723" y="669" width="5" height="40" fill="#00ff00"/>
<rect x="731" y="669" width="5" height="53" fill="#00ff00"/>
<rect x="739" y="669" width="5" height="63" fill="#00ff00"/>
<rect x="747" y="669" width="5" height="70" fill="#00ff00"/>
<rect x="755" y="669" width="5" height="78" fill="#00ff00"/>
<rect x="763" y="669" width="5" height="88" fill="#00ff00"/>
<rect x="771" y="669" width="5" height="91" fill="#00ff00"/>
<rect x="779" y="669" width="5" height="101" fill="#00ff00"/>
<rect x="787" y="669" width="5" height="105" fill="#00ff00"/>
<rect x="795" y="669" width="5" height="105" fill="#00ff00"/>
<rect x="803" y="669" width="5" height="107" fill="#00ff00"/>
<rect x="811" y="669" width="5" height="93" fill="#00ff00"/>
<rect x="819" y="669" width="5" height="81" fill="#00ff00"/>
<rect x="827" y="669" width="5" height="68" fill="#00ff00"/>
<rect x="835" y="669" width="5" height="56" fill="#00ff00"/>
<rect x="843" y="669" width="5" height="44" fill="#00ff00"/>
<rect x="851" y="669" width="5" height="37" fill="#00ff00"/>
<rect x="859" y="669" width="5" height="26" fill="#00ff00"/>
<rect x="867" y="669" width="5" height="17" fill="#00ff00"/>
<rect x="875" y="669" width="5" height="12" fill="#00ff00"/>
<rect x="883" y="669" width="5" height="5" fill="#00ff00"/>
<rect x="891" y="667" width="5" height="2" fill="#00ff00"/>
<rect x="899" y="661" width="5" height="8" fill="#00ff00"/>
<rect x="907" y="658" width="5" height="11" fill="#00ff00"/>
<rect x="915" y="652" width="5" height="17" fill="#00ff00"/>
<rect x="923" y="648" width="5" height="21" fill="#00ff00"/>
<rect x="931" y="644" width="5" height="25" fill="#00ff00"/>
<rect x="939" y="641" width="5" height="28" fill="#00ff00"/>
<rect x="947" y="640" width="5" height="29" fill="#00ff00"/>
<rect x="955" y="637" width="5" height="32" fill="#00ff00"/>
<rect x="963" y="630" width="5" height="39" fill="#00ff00"/>
<rect x="971" y="622" width="5" height="47" fill="#00ff00"/>
<rect x="979" y="613" width="5" height="56" fill="#00ff00"/>
<rect x="987" y="614" width="5" height="55" fill="#00ff00"/>
<rect x="995" y="613" width="5" height="56" fill="#00ff00"/>
<rect x="1003" y="618" width="5" height="51" fill="#00ff00"/>
<rect x="1011" y="624" width="5" height="45" fill="#00ff00"/>
<rect x="1019" y="635" width="5" height="34" fill="#00ff00"/>
<rect x="1027" y="644" width="5" height="25" fill="#00ff00"/>
<rect x="1035" y="661" width="5" height="8" fill="#00ff00"/>
<rect x="1043" y="669" width="5" height="5" fill="#00ff00"/>
<rect x="1051" y="669" width="5" height="14" fill="#00ff00"/>
<rect x="1059" y="669" width="5" height="23" fill="#00ff00"/>
<rect x="1067" y="669" width="5" height="24" fill="#00ff00"/>
<rect x="1075" y="669" width="5" height="23" fill="#00ff00"/>
<rect x="1083" y="669" width="5" height="22" fill="#00ff00"/>
<rect x="1091" y="669" width="5" height="21" fill="#00ff00"/>
<rect x="1099" y="669" width="5" height="27" fill="#00ff00"/>
<rect x="1107" y="669" width="5" height="31" fill="#00ff00"/>
<rect x="1115" y="669" width="5" height="33" fill="#00ff00"/>
<rect x="1123" y="669" width="5" height="36" fill="#00ff00"/>
<rect x="1131" y="669" width="5" height="29" fill="#00ff00"/>
<rect x="1139" y="669" width="5" height="23" fill="#00ff00"/>
</g>
<polyline points="5.5,745.5 13.5,747.1 21.5,747.6 29.5,748.3 37.5,749.2 45.5,749.2 53.5,749.2 61.5,747.9 69.5,746.1 77.5,742.2 85.5,738.1 93.5,732 101.5,724.5 109.5,716.5 117.5,708.5 125.5,700.5 133.5,693 141.5,684.5 149.5,677.4 157.5,670.2 165.5,664.7 173.5,659.1 181.5,654.2 189.5,647.4 197.5,642.5 205.5,637.3 213.5,633.4 221.5,630 229.5,628 237.5,626.3 245.5,625.4 253.5,625.4 261.5,626.3 269.5,627.5 277.5,629.3 285.5,630.4 293.5,631.3 301.5,632.4 309.5,632.4 317.5,632.5 325.5,632.5 333.5,632.5 341.5,633.4 349.5,633.4 357.5,634 365.5,635.5 373.5,638.2 381.5,642 389.5,647.6 397.5,655.1 405.5,663.2 413.5,670.6 421.5,677.9 429.5,684.8 437.5,692.1 445.5,697 453.5,700.8 461.5,703.7 469.5,705.7 477.5,706.4 485.5,706.4 493.5,706.4 501.5,705 509.5,703.5 517.5,701.5 525.5,699.5 533.5,696 541.5,692.3 549.5,688.2 557.5,685.2 565.5,682.5 573.5,681.1 581.5,680.1 589.5,680.1 597.5,681.8 605.5,684 613.5,686 621.5,687.2 629.5,687.2 637.5,686.3 645.5,686.3 653.5,686.3 661.5,685.4 669.5,685.4 677.5,685.4 685.5,686.3 693.5,687.3 701.5,688.8 709.5,690.3 717.5,691.7 725.5,694.7 733.5,699.5 741.5,705 749.5,707.5 757.5,716.5 765.5,722.5 773.5,730 781.5,735.5 789.5,746 797.5,753 805.5,759 813.5,761.3 821.5,763.8 829.5,762.5 837.5,758.6 845.5,753.7 853.5,744.8 861.5,737.6 869.5,726 877.5,716.8 885.5,707.5 893.5,697.2 901.5,689.2 909.5,682 917.5,675.6 925.5,669.6 933.5,662.5 941.5,658 949.5,654.5 957.5,651 965.5,646.8 973.5,642.5 981.5,636.7 989.5,632.7 997.5,628.4 1005.5,625.3 1013.5,623.4 1021.5,623.4 1029.5,624.4 1037.5,627.1 1045.5,632.7 1053.5,640.7 1061.5,649.3 1069.5,658 1077.5,665.5 1085.5,673.7 1093.5,679.7 1101.5,685.3 1109.5,689.2 1117.5,692.2 1125.5,695.2 1133.5,695.4 1141.5,695.4" fill="none" stroke="#ff0000" stroke-width="3" stroke-linejoin="round" shape-rendering="crispEdges" clip-path="url(#cd)"/>
<g fill="#ff0000" stroke="#ff0000">
<line x1="1156.5" y1="387" x2="1191.5" y2="268" stroke-width="6" stroke-linecap="round"/>
<polygon points="1199.8,238 1178.9,267.8 1201.8,274.6" stroke-width="1" stroke-linejoin="round"/>
</g>
<polygon points="8,12 19,12 13.5,18" fill="#000"/>
<polygon points="1154,5 1169,5 1161.5,13" fill="#778899"/>
<text x="26" y="20.5" fill="#000" textLength="60" lengthAdjust="spacingAndGlyphs" xml:space="preserve">HK50-,H4</text>
<text x="93" y="20.5" fill="#000" textLength="52" lengthAdjust="spacingAndGlyphs" xml:space="preserve">19160.5</text>
<text x="149" y="20.5" fill="#000" textLength="52" lengthAdjust="spacingAndGlyphs" xml:space="preserve">19295.5</text>
<text x="205" y="20.5" fill="#000" textLength="52" lengthAdjust="spacingAndGlyphs" xml:space="preserve">19128.5</text>
<text x="261" y="20.5" fill="#000" textLength="52" lengthAdjust="spacingAndGlyphs" xml:space="preserve">19231.5</text>
<text x="9" y="620.5" fill="#000" textLength="95.5" lengthAdjust="spacingAndGlyphs" xml:space="preserve">MACD(12,26,9)</text>
<text x="107.5" y="620.5" fill="#000" textLength="41.5" lengthAdjust="spacingAndGlyphs" xml:space="preserve">-84.44</text>
<text x="153" y="620.5" fill="#000" textLength="49" lengthAdjust="spacingAndGlyphs" xml:space="preserve">-101.83</text>
<text x="1459" y="52" fill="#000" textLength="52" lengthAdjust="spacingAndGlyphs" xml:space="preserve">20822.0</text>
<text x="1459" y="117" fill="#000" textLength="52" lengthAdjust="spacingAndGlyphs" xml:space="preserve">20482.0</text>
<text x="1459" y="182" fill="#000" textLength="52" lengthAdjust="spacingAndGlyphs" xml:space="preserve">20137.0</text>
<text x="1459" y="247" fill="#000" textLength="52" lengthAdjust="spacingAndGlyphs" xml:space="preserve">19792.0</text>
<text x="1459" y="312" fill="#000" textLength="52" lengthAdjust="spacingAndGlyphs" xml:space="preserve">19447.0</text>
<text x="1459" y="377" fill="#000" textLength="52" lengthAdjust="spacingAndGlyphs" xml:space="preserve">19102.0</text>
<text x="1459" y="442" fill="#000" textLength="52" lengthAdjust="spacingAndGlyphs" xml:space="preserve">18757.0</text>
<text x="1459" y="507" fill="#000" textLength="52" lengthAdjust="spacingAndGlyphs" xml:space="preserve">18412.0</text>
<text x="1459" y="572" fill="#000" textLength="52" lengthAdjust="spacingAndGlyphs" xml:space="preserve">18072.0</text>
<text x="1455.5" y="619.5" fill="#000" textLength="36.5" lengthAdjust="spacingAndGlyphs" xml:space="preserve">249.6</text>
<text x="1455.5" y="675" fill="#000" textLength="28.5" lengthAdjust="spacingAndGlyphs" xml:space="preserve">0.00</text>
<text x="1455.5" y="780" fill="#000" textLength="49" lengthAdjust="spacingAndGlyphs" xml:space="preserve">-442.43</text>
<rect x="1454" y="215" width="62" height="17" fill="#000"/>
<text x="1459" y="229" fill="#fff" textLength="52" lengthAdjust="spacingAndGlyphs" xml:space="preserve">19900.0</text>
<rect x="1454" y="305" width="62" height="17" fill="#000"/>
<text x="1459" y="319" fill="#fff" textLength="52" lengthAdjust="spacingAndGlyphs" xml:space="preserve">19420.0</text>
<rect x="1454" y="339" width="62" height="17" fill="#000"/>
<text x="1459" y="353" fill="#fff" textLength="52" lengthAdjust="spacingAndGlyphs" xml:space="preserve">19231.5</text>
<rect x="1454" y="384" width="62" height="17" fill="#0000cd"/>
<text x="1459" y="398" fill="#fff" textLength="52" lengthAdjust="spacingAndGlyphs" xml:space="preserve">19000.0</text>
<rect x="1454" y="441" width="62" height="17" fill="#0000cd"/>
<text x="1459" y="455" fill="#fff" textLength="52" lengthAdjust="spacingAndGlyphs" xml:space="preserve">18701.4</text>
<text x="4.5" y="801.5" fill="#000" textLength="77" lengthAdjust="spacingAndGlyphs" xml:space="preserve">16 Mar 2023</text>
<text x="131.5" y="801.5" fill="#000" textLength="84" lengthAdjust="spacingAndGlyphs" xml:space="preserve">28 Mar 05:00</text>
<text x="260.5" y="801.5" fill="#000" textLength="82" lengthAdjust="spacingAndGlyphs" xml:space="preserve">12 Apr 05:00</text>
<text x="387.5" y="801.5" fill="#000" textLength="82.5" lengthAdjust="spacingAndGlyphs" xml:space="preserve">24 Apr 05:00</text>
<text x="515.5" y="801.5" fill="#000" textLength="78" lengthAdjust="spacingAndGlyphs" xml:space="preserve">5 May 05:00</text>
<text x="643.5" y="801.5" fill="#000" textLength="86" lengthAdjust="spacingAndGlyphs" xml:space="preserve">17 May 05:00</text>
<text x="771.5" y="801.5" fill="#000" textLength="86" lengthAdjust="spacingAndGlyphs" xml:space="preserve">30 May 05:00</text>
<text x="899.5" y="801.5" fill="#000" textLength="75.5" lengthAdjust="spacingAndGlyphs" xml:space="preserve">9 Jun 05:00</text>
<text x="1027.5" y="801.5" fill="#000" textLength="83.5" lengthAdjust="spacingAndGlyphs" xml:space="preserve">21 Jun 05:00</text>
</svg></body></html>
